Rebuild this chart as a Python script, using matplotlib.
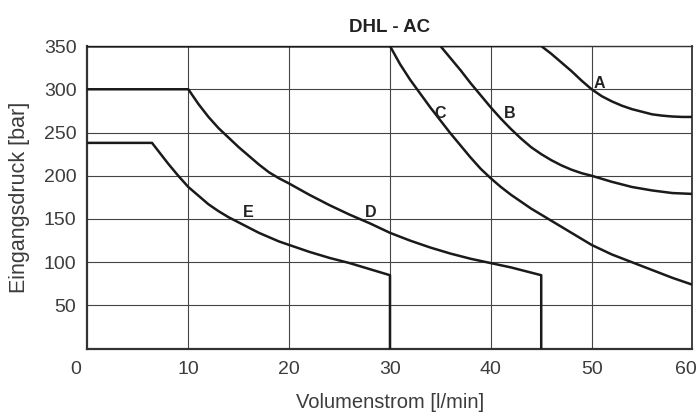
import matplotlib.pyplot as plt

plt.rcParams['font.family'] = ['Liberation Sans', 'DejaVu Sans']

# curves: flow [l/min] vs inlet pressure [bar]
a_x = [0, 45, 46, 47, 48, 49, 50, 51, 52, 53, 54, 55, 56, 57, 58, 59, 60]
a_y = [350, 350, 341, 331, 321, 310, 300, 292, 286, 281, 277, 274, 271, 269.5, 268.5, 268, 268]

b_x = [0, 35, 36, 37, 38, 39, 40, 41, 42, 43, 44, 45, 46, 47, 48, 49, 50, 52, 54, 56, 58, 60]
b_y = [350, 350, 336, 322, 307, 293, 279, 266, 254, 243, 233, 225, 218, 212, 207, 203, 200, 193, 187, 183, 180, 179]

c_x = [0, 30, 31, 32, 33, 34, 35, 36, 37, 38, 39, 40, 41, 42, 43, 44, 45, 46, 47, 48, 49, 50,
       52, 54, 56, 58, 60]
c_y = [350, 350, 329, 311, 295, 279, 264, 249, 235, 221, 208, 197, 187, 178, 170, 162, 155, 148, 141, 134, 127, 120,
       109, 100, 91, 82, 74]

d_x = [0, 10, 11, 12, 13, 14, 15, 16, 17, 18, 19, 20, 22, 24, 26, 28, 30, 32, 34, 36, 38, 40, 42, 44, 45, 45]
d_y = [300, 300, 283, 268, 255, 244, 233, 223, 213, 204, 197, 191, 178, 166, 155, 145, 134, 125, 117, 110, 104, 99, 94, 88, 85, 0]

e_x = [0, 6.4, 7, 8, 9, 10, 11, 12, 13, 14, 15, 16, 17, 18, 19, 20, 22, 24, 26, 28, 30, 30]
e_y = [238, 238, 229, 214, 200, 187, 177, 167, 159, 152, 146, 140, 134, 129, 124, 120, 112, 105, 99, 92, 85, 0]

labels = ['A', 'B', 'C', 'D', 'E']
label_x = [50.8, 41.9, 35.0, 28.1, 15.95]
label_y = [307, 272, 272, 158, 158]

fig = plt.figure(figsize=(6.97, 4.12), dpi=100)
ax = fig.add_axes([0.1255, 0.1536, 0.868, 0.7347])

for xs, ys in [(a_x, a_y), (b_x, b_y), (c_x, c_y), (d_x, d_y), (e_x, e_y)]:
    ax.plot(xs, ys, color='#1a1a1a', lw=1.8, solid_joinstyle='round', zorder=3)

for t, x, y in zip(labels, label_x, label_y):
    ax.text(x, y, t, ha='center', va='center', fontsize=11.5, fontweight='bold', color='#222222', zorder=4)

ax.set_xlim(0, 60)
ax.set_ylim(0, 350)
ax.set_xticks([10, 20, 30, 40, 50, 60])
ax.set_xticklabels(['10', '20', '30', '40', '50', ''])
ax.set_yticks([50, 100, 150, 200, 250, 300, 350])
ax.grid(True, color='#444444', lw=0.8)
ax.set_axisbelow(True)
ax.tick_params(length=0, labelsize=14, labelcolor='#3c3c3c')
ax.tick_params(axis='y', pad=8)
ax.tick_params(axis='x', pad=8.5)
for s in ax.spines.values():
    s.set_color('#333333')
    s.set_linewidth(1.0)
ax.spines['left'].set_linewidth(1.6)
ax.spines['bottom'].set_linewidth(1.6)
ax.spines['right'].set_linewidth(1.3)

# 0 sits left of the corner, 60 is pushed in against the right edge
ax.annotate('0', xy=(0, 0), xytext=(-8.3, -8.5), textcoords='offset points',
            ha='center', va='top', fontsize=14, color='#3c3c3c')
ax.annotate('60', xy=(60, 0), xytext=(3, -8.5), textcoords='offset points',
            ha='right', va='top', fontsize=14, color='#3c3c3c')

ax.set_xlabel('Volumenstrom [l/min]', fontsize=14.5, color='#3c3c3c', labelpad=11)
ax.set_ylabel('Eingangsdruck [bar]', fontsize=15.5, color='#3c3c3c', labelpad=10)
ax.set_title('DHL - AC', fontsize=13.5, fontweight='bold', color='#222222', pad=10)

fig.savefig('out.png', dpi=100)
